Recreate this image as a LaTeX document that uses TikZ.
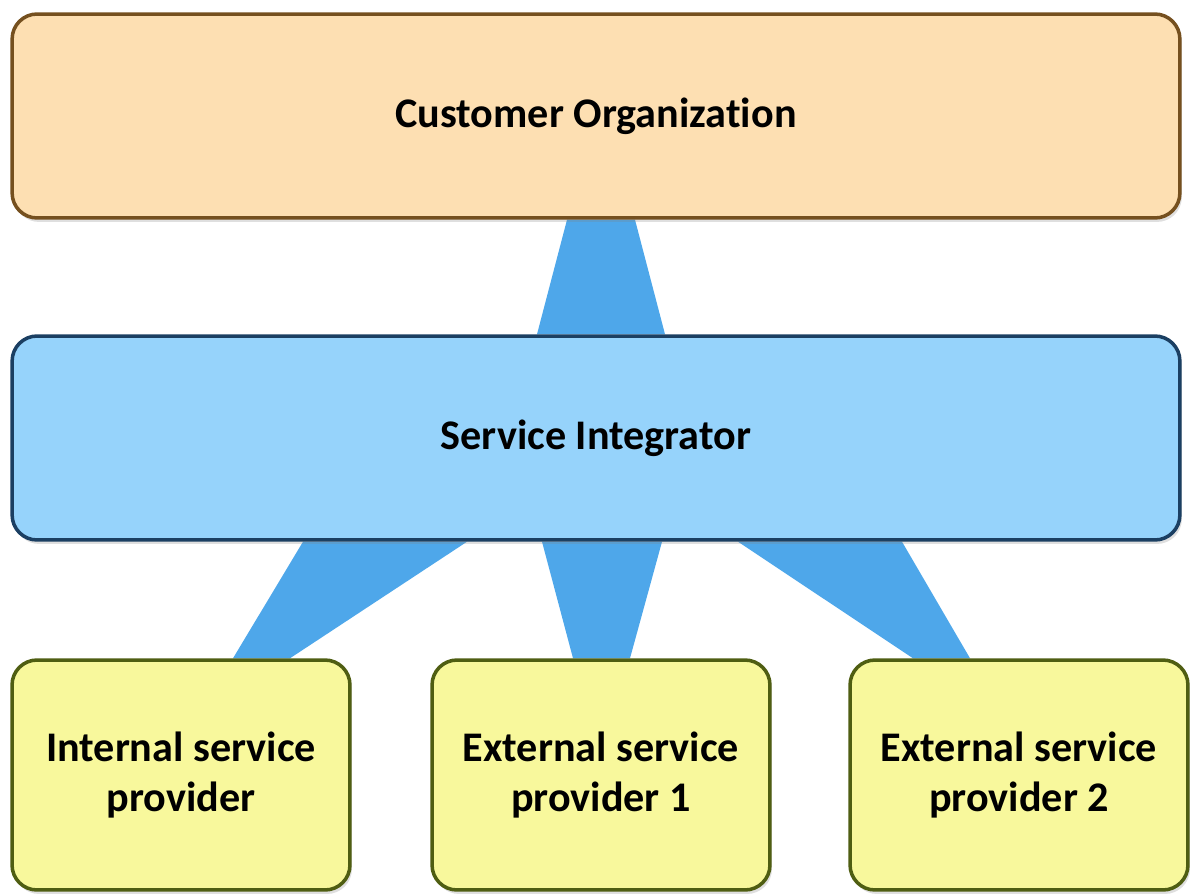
\documentclass[tikz,border=0pt]{standalone}
\usepackage{fontspec}
\setmainfont{Carlito}[Ligatures=NoCommon]
\usetikzlibrary{calc,shadows,backgrounds}

\definecolor{custfill}{HTML}{FDDFB2}
\definecolor{custline}{HTML}{75501F}
\definecolor{intfill}{HTML}{96D3FB}
\definecolor{intline}{HTML}{1B3F62}
\definecolor{provfill}{HTML}{F8F89C}
\definecolor{provline}{HTML}{4F5E12}
\definecolor{linkblue}{HTML}{4EA7EA}

\tikzset{
    box/.style={rectangle, rounded corners=0.5cm, line width=2pt, align=center,
        font=\bfseries\fontsize{24}{28.5}\selectfont,
        drop shadow={opacity=0.25, shadow xshift=0.04cm, shadow yshift=-0.08cm}},
    link/.style={fill=linkblue}
}

\begin{document}
\begin{tikzpicture}[x=0.02cm, y=-0.02cm]
    % page size of the reference
    \useasboundingbox (0,0) rectangle (1192,895);

    % Draw the three levels
    \node[box, fill=custfill, draw=custline, minimum width=23.36cm, minimum height=4.08cm]
        (cust) at (596,116) {Customer Organization};
    \node[box, fill=intfill, draw=intline, minimum width=23.36cm, minimum height=4.08cm]
        (integ) at (596,438) {Service Integrator};

    \node[box, fill=provfill, draw=provline, minimum width=6.76cm, minimum height=4.6cm]
        (intern) at (181,775) {Internal service\\provider};
    \node[box, fill=provfill, draw=provline, minimum width=6.76cm, minimum height=4.6cm]
        (ext1) at (601,775) {External service\\provider 1};
    \node[box, fill=provfill, draw=provline, minimum width=6.76cm, minimum height=4.6cm]
        (ext2) at (1019,775) {External service\\provider 2};

    % Draw the blue links behind the boxes
    \begin{scope}[on background layer]
        \fill[link] ($(cust.south)+(-29,0)$) -- ($(cust.south)+(39,0)$)
            -- ($(integ.north)+(69,0)$) -- ($(integ.north)+(-59,0)$) -- cycle;
        \fill[link] ($(integ.south)+(-293,0)$) -- ($(integ.south)+(-129,0)$)
            -- ($(intern.north)+(109,0)$) -- ($(intern.north)+(52,0)$) -- cycle;
        \fill[link] ($(integ.south)+(-54,0)$) -- ($(integ.south)+(66,0)$)
            -- ($(ext1.north)+(29,0)$) -- ($(ext1.north)+(-28,0)$) -- cycle;
        \fill[link] ($(integ.south)+(142,0)$) -- ($(integ.south)+(306,0)$)
            -- ($(ext2.north)+(-49,0)$) -- ($(ext2.north)+(-106,0)$) -- cycle;
    \end{scope}

\end{tikzpicture}
\end{document}
